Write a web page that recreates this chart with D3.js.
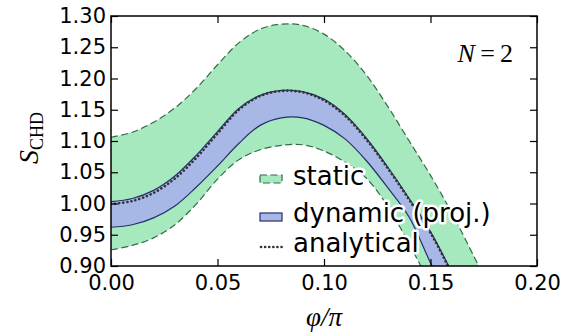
<!DOCTYPE html>
<html>
<head>
<meta charset="utf-8">
<script src="https://cdn.jsdelivr.net/npm/d3@7"></script>
<style>
body { margin: 0; background: #fff; }
</style>
</head>
<body>
<svg id="chart" width="580" height="332"></svg>
<script>
// phi/pi grid and the four curves
var phi = [0, 0.01, 0.02, 0.03, 0.04, 0.05, 0.06, 0.07, 0.08, 0.09,
           0.10, 0.11, 0.12, 0.13, 0.14, 0.15, 0.16, 0.17, 0.18];
var staticUpper = [1.106, 1.114, 1.130, 1.153, 1.184, 1.222, 1.257, 1.279, 1.287, 1.285,
                   1.271, 1.244, 1.205, 1.155, 1.100, 1.045, 0.985, 0.918, 0.850];
var staticLower = [0.926, 0.933, 0.945, 0.966, 0.999, 1.039, 1.070, 1.086, 1.093, 1.094,
                   1.084, 1.066, 1.040, 0.995, 0.935, 0.870, 0.800, 0.730, 0.660];
var dynUpper = [1.003, 1.008, 1.021, 1.044, 1.077, 1.115, 1.152, 1.173, 1.181, 1.179,
                1.167, 1.142, 1.104, 1.058, 1.008, 0.955, 0.890, 0.820, 0.750];
var dynLower = [0.962, 0.966, 0.977, 0.996, 1.026, 1.060, 1.096, 1.125, 1.137, 1.137,
                1.125, 1.103, 1.068, 1.025, 0.978, 0.905, 0.835, 0.760, 0.690];
var analytical = [0.999, 1.004, 1.017, 1.040, 1.073, 1.112, 1.150, 1.172, 1.180, 1.178,
                  1.165, 1.140, 1.102, 1.056, 1.006, 0.953, 0.888, 0.820, 0.750];

var xTicks = [0, 0.05, 0.10, 0.15, 0.20];
var yTicks = [0.90, 0.95, 1.00, 1.05, 1.10, 1.15, 1.20, 1.25, 1.30];
var legendLabels = ["static", "dynamic (proj.)", "analytical"];

var margin = { top: 16, right: 43, bottom: 66, left: 111 };
var W = 580, H = 332;
var iw = W - margin.left - margin.right;
var ih = H - margin.top - margin.bottom;

var GREEN = "#a6e9bf", GREEN_EDGE = "#336b45";
var BLUE = "#a7b7e6", BLUE_EDGE = "#262f6b";

var svg = d3.select("#chart");
var g = svg.append("g").attr("transform", "translate(" + margin.left + "," + margin.top + ")");

var x = d3.scaleLinear().domain([0, 0.20]).range([0, iw]);
var y = d3.scaleLinear().domain([0.90, 1.30]).range([ih, 0]);

g.append("clipPath").attr("id", "clip")
    .append("rect").attr("width", iw).attr("height", ih);

var plot = g.append("g").attr("clip-path", "url(#clip)");
var curve = d3.curveCatmullRom.alpha(0.5);

function band(lo, hi) {
    return d3.area()
        .x(function (d, i) { return x(phi[i]); })
        .y0(function (d, i) { return y(lo[i]); })
        .y1(function (d, i) { return y(hi[i]); })
        .curve(curve)(phi);
}
function line(vals) {
    return d3.line()
        .x(function (d, i) { return x(phi[i]); })
        .y(function (d, i) { return y(vals[i]); })
        .curve(curve)(phi);
}

// static band
plot.append("path").attr("d", band(staticLower, staticUpper)).attr("fill", GREEN);
[staticUpper, staticLower].forEach(function (s) {
    plot.append("path").attr("d", line(s))
        .attr("fill", "none").attr("stroke", GREEN_EDGE)
        .attr("stroke-width", 1.2).attr("stroke-dasharray", "7,3.5");
});

// dynamic band
plot.append("path").attr("d", band(dynLower, dynUpper)).attr("fill", BLUE);
[dynUpper, dynLower].forEach(function (s) {
    plot.append("path").attr("d", line(s))
        .attr("fill", "none").attr("stroke", BLUE_EDGE).attr("stroke-width", 1.2);
});

// analytical
var DOTS = "0.1,4";
plot.append("path").attr("d", line(analytical))
    .attr("fill", "none").attr("stroke", "#333")
    .attr("stroke-width", 2.6).attr("stroke-linecap", "round")
    .attr("stroke-dasharray", DOTS);

// legend with white halo
var lg = g.append("g").attr("transform", "translate(" + (260 - margin.left) + ",0)");
var rowY = [185, 222, 252].map(function (v) { return v - margin.top; });

function halo(sel) {
    return sel.attr("stroke", "#fff").attr("stroke-width", 5).attr("stroke-linejoin", "round");
}
halo(lg.append("rect").attr("x", 0).attr("y", rowY[0] - 10).attr("width", 22).attr("height", 8).attr("fill", "#fff"));
halo(lg.append("rect").attr("x", 0).attr("y", rowY[1] - 9).attr("width", 22).attr("height", 8).attr("fill", "#fff"));
halo(lg.append("line").attr("x1", 0).attr("x2", 22).attr("y1", rowY[2] - 5).attr("y2", rowY[2] - 5));

lg.append("rect").attr("x", 0).attr("y", rowY[0] - 10).attr("width", 22).attr("height", 8)
    .attr("fill", GREEN).attr("stroke", GREEN_EDGE).attr("stroke-width", 1.2).attr("stroke-dasharray", "7,3.5");
lg.append("rect").attr("x", 0).attr("y", rowY[1] - 9).attr("width", 22).attr("height", 8)
    .attr("fill", BLUE).attr("stroke", BLUE_EDGE).attr("stroke-width", 1.2);
lg.append("line").attr("x1", 1).attr("x2", 22).attr("y1", rowY[2] - 5).attr("y2", rowY[2] - 5)
    .attr("stroke", "#333").attr("stroke-width", 2.6).attr("stroke-linecap", "round")
    .attr("stroke-dasharray", DOTS);

legendLabels.forEach(function (t, i) {
    lg.append("text").attr("x", 33).attr("y", rowY[i])
        .attr("font-family", "DejaVu Sans").attr("font-size", 26)
        .attr("fill", "#000").attr("stroke", "#fff").attr("stroke-width", 5)
        .attr("stroke-linejoin", "round").attr("paint-order", "stroke")
        .text(t);
});

// axes with inward ticks on all four sides
var fmt = d3.format(".2f");
function styleAxis(a) {
    a.select(".domain").remove();
    a.selectAll("line").attr("stroke", "#000").attr("stroke-width", 1.2);
    a.selectAll("text").attr("font-family", "DejaVu Sans").attr("font-size", 21).attr("fill", "#000");
}
g.append("g").attr("transform", "translate(0," + ih + ")")
    .call(d3.axisBottom(x).tickValues(xTicks).tickFormat(fmt).tickSize(-7).tickPadding(9))
    .call(styleAxis);
g.append("g")
    .call(d3.axisTop(x).tickValues(xTicks).tickFormat("").tickSize(-7))
    .call(styleAxis);
g.append("g")
    .call(d3.axisLeft(y).tickValues(yTicks).tickFormat(fmt).tickSize(-7).tickPadding(5))
    .call(styleAxis);
g.append("g").attr("transform", "translate(" + iw + ",0)")
    .call(d3.axisRight(y).tickValues(yTicks).tickFormat("").tickSize(-7))
    .call(styleAxis);

g.append("rect").attr("width", iw).attr("height", ih)
    .attr("fill", "none").attr("stroke", "#000").attr("stroke-width", 1.5);

// axis labels
var yl = svg.append("text")
    .attr("transform", "translate(38," + (margin.top + ih / 2 - 3) + ") rotate(-90)")
    .attr("text-anchor", "middle")
    .attr("font-family", "Liberation Serif").attr("fill", "#000");
yl.append("tspan").attr("font-style", "italic").attr("font-size", 28).text("S");
yl.append("tspan").attr("font-size", 18).attr("dy", 5).text("CHD");

svg.append("text")
    .attr("x", margin.left + iw / 2).attr("y", 326)
    .attr("text-anchor", "middle")
    .attr("font-family", "Liberation Serif").attr("font-style", "italic")
    .attr("font-size", 27).attr("fill", "#000")
    .text("φ/π");

var nl = svg.append("text")
    .attr("x", 513).attr("y", 62).attr("text-anchor", "end")
    .attr("font-family", "Liberation Serif").attr("font-size", 26).attr("fill", "#000");
nl.append("tspan").attr("font-style", "italic").text("N");
nl.append("tspan").text("\u2009=\u20092");
</script>
</body>
</html>
